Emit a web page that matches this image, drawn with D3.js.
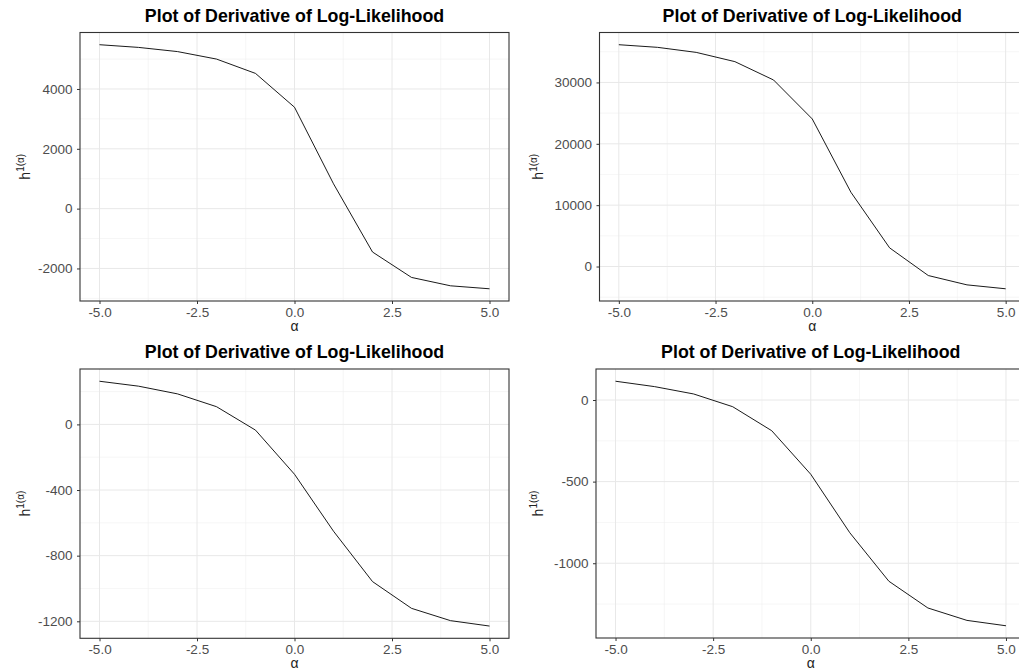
<!DOCTYPE html>
<html>
<head>
<meta charset="utf-8">
<script src="https://cdn.jsdelivr.net/npm/d3@7"></script>
<style>
  html, body { margin: 0; padding: 0; background: #fff; }
  svg { display: block; font-family: "Liberation Sans", Arial, sans-serif; }
</style>
</head>
<body>
<svg id="chart" width="1019" height="671"></svg>
<script>
// ---- data ----
const alpha = [-5, -4, -3, -2, -1, 0, 1, 2, 3, 4, 5];
const hA = [5480, 5390, 5250, 5000, 4520, 3390, 830, -1450, -2300, -2580, -2680];
const hB = [36150, 35720, 34900, 33390, 30400, 24050, 12100, 3040, -1470, -2990, -3630];
const hC = [263, 233, 186, 108, -35, -304, -651, -958, -1121, -1196, -1229];
const hD = [115, 82, 37, -41, -188, -455, -813, -1110, -1274, -1350, -1383];

const xTicks = [-5, -2.5, 0, 2.5, 5];
const xMinor = [-3.75, -1.25, 1.25, 3.75];
const yTicksA = [-2000, 0, 2000, 4000];
const yMinorA = [-3000, -1000, 1000, 3000, 5000];
const yTicksB = [0, 10000, 20000, 30000];
const yMinorB = [-5000, 5000, 15000, 25000, 35000];
const yTicksC = [-1200, -800, -400, 0];
const yMinorC = [-1000, -600, -200, 200];
const yTicksD = [-1000, -500, 0];
const yMinorD = [-1250, -750, -250, 250];

const titleText = "Plot of Derivative of Log-Likelihood";

// ---- layout ----
const panels = [
  { y: hA, ticks: yTicksA, minor: yMinorA, box: { l: 80, r: 509, t: 32.5, b: 301 }, ylabX: 30 },
  { y: hB, ticks: yTicksB, minor: yMinorB, box: { l: 599.5, r: 1025, t: 32.5, b: 301 }, ylabX: 543 },
  { y: hC, ticks: yTicksC, minor: yMinorC, box: { l: 80, r: 509, t: 369, b: 638.3 }, ylabX: 30 },
  { y: hD, ticks: yTicksD, minor: yMinorD, box: { l: 596, r: 1025.5, t: 369, b: 638 }, ylabX: 543 }
];

const hy = s => s.replace(/\u2212/g, "-");
const fmtX = d => hy(d3.format(".1f")(d));
const fmtY = d => hy(d3.format("d")(d));

const svg = d3.select("#chart");

panels.forEach(p => {
  const { l, r, t, b } = p.box;
  const xr = 5 - (-5);
  const x = d3.scaleLinear().domain([-5 - xr * 0.05, 5 + xr * 0.05]).range([l, r]);
  const [ymin, ymax] = d3.extent(p.y);
  const yr = ymax - ymin;
  const y = d3.scaleLinear().domain([ymin - yr * 0.05, ymax + yr * 0.05]).range([b, t]);
  const g = svg.append("g");

  // background grid
  const inY = v => v >= y.domain()[0] && v <= y.domain()[1];
  g.selectAll(".xminor").data(xMinor).join("line")
    .attr("x1", d => x(d)).attr("x2", d => x(d)).attr("y1", t).attr("y2", b)
    .attr("stroke", "#f0f0f0").attr("stroke-width", 0.6);
  g.selectAll(".yminor").data(p.minor.filter(inY)).join("line")
    .attr("x1", l).attr("x2", r).attr("y1", d => y(d)).attr("y2", d => y(d))
    .attr("stroke", "#f0f0f0").attr("stroke-width", 0.6);
  g.selectAll(".xmajor").data(xTicks).join("line")
    .attr("x1", d => x(d)).attr("x2", d => x(d)).attr("y1", t).attr("y2", b)
    .attr("stroke", "#e8e8e8").attr("stroke-width", 1);
  g.selectAll(".ymajor").data(p.ticks).join("line")
    .attr("x1", l).attr("x2", r).attr("y1", d => y(d)).attr("y2", d => y(d))
    .attr("stroke", "#e8e8e8").attr("stroke-width", 1);

  // line
  const line = d3.line().x((d, i) => x(alpha[i])).y(d => y(d));
  g.append("path").datum(p.y).attr("d", line)
    .attr("fill", "none").attr("stroke", "#000").attr("stroke-width", 0.9);

  // border
  g.append("rect").attr("x", l).attr("y", t).attr("width", r - l).attr("height", b - t)
    .attr("fill", "none").attr("stroke", "#333").attr("stroke-width", 1.1);

  // axes
  const xAxis = d3.axisBottom(x).tickValues(xTicks).tickFormat(fmtX)
    .tickSize(3).tickPadding(3);
  const gx = g.append("g").attr("transform", `translate(0,${b})`).call(xAxis);
  const yAxis = d3.axisLeft(y).tickValues(p.ticks).tickFormat(fmtY)
    .tickSize(3).tickPadding(4.5);
  const gy = g.append("g").attr("transform", `translate(${l},0)`).call(yAxis);
  [gx, gy].forEach(a => {
    a.select(".domain").remove();
    a.selectAll(".tick line").attr("stroke", "#333").attr("stroke-width", 1);
    a.selectAll(".tick text").attr("fill", "#4d4d4d")
      .style("font-family", "Liberation Sans, Arial, sans-serif").style("font-size", "13.5px");
  });

  // title
  g.append("text").attr("x", (l + r) / 2).attr("y", t - 11)
    .attr("text-anchor", "middle").attr("font-weight", "bold").attr("font-size", 17.8)
    .attr("fill", "#000").text(titleText);

  // x label
  g.append("text").attr("x", (x(-5) + x(5)) / 2).attr("y", b + 30)
    .attr("text-anchor", "middle").attr("font-size", 14).attr("fill", "#222").text("α");

  // y label
  const yl = g.append("text")
    .attr("transform", `translate(${p.ylabX},${(t + b) / 2}) rotate(-90)`)
    .attr("text-anchor", "middle").attr("font-size", 14).attr("fill", "#222");
  yl.append("tspan").text("h");
  yl.append("tspan").attr("font-size", 10).attr("dy", -6).text("1(α)");
});
</script>
</body>
</html>
